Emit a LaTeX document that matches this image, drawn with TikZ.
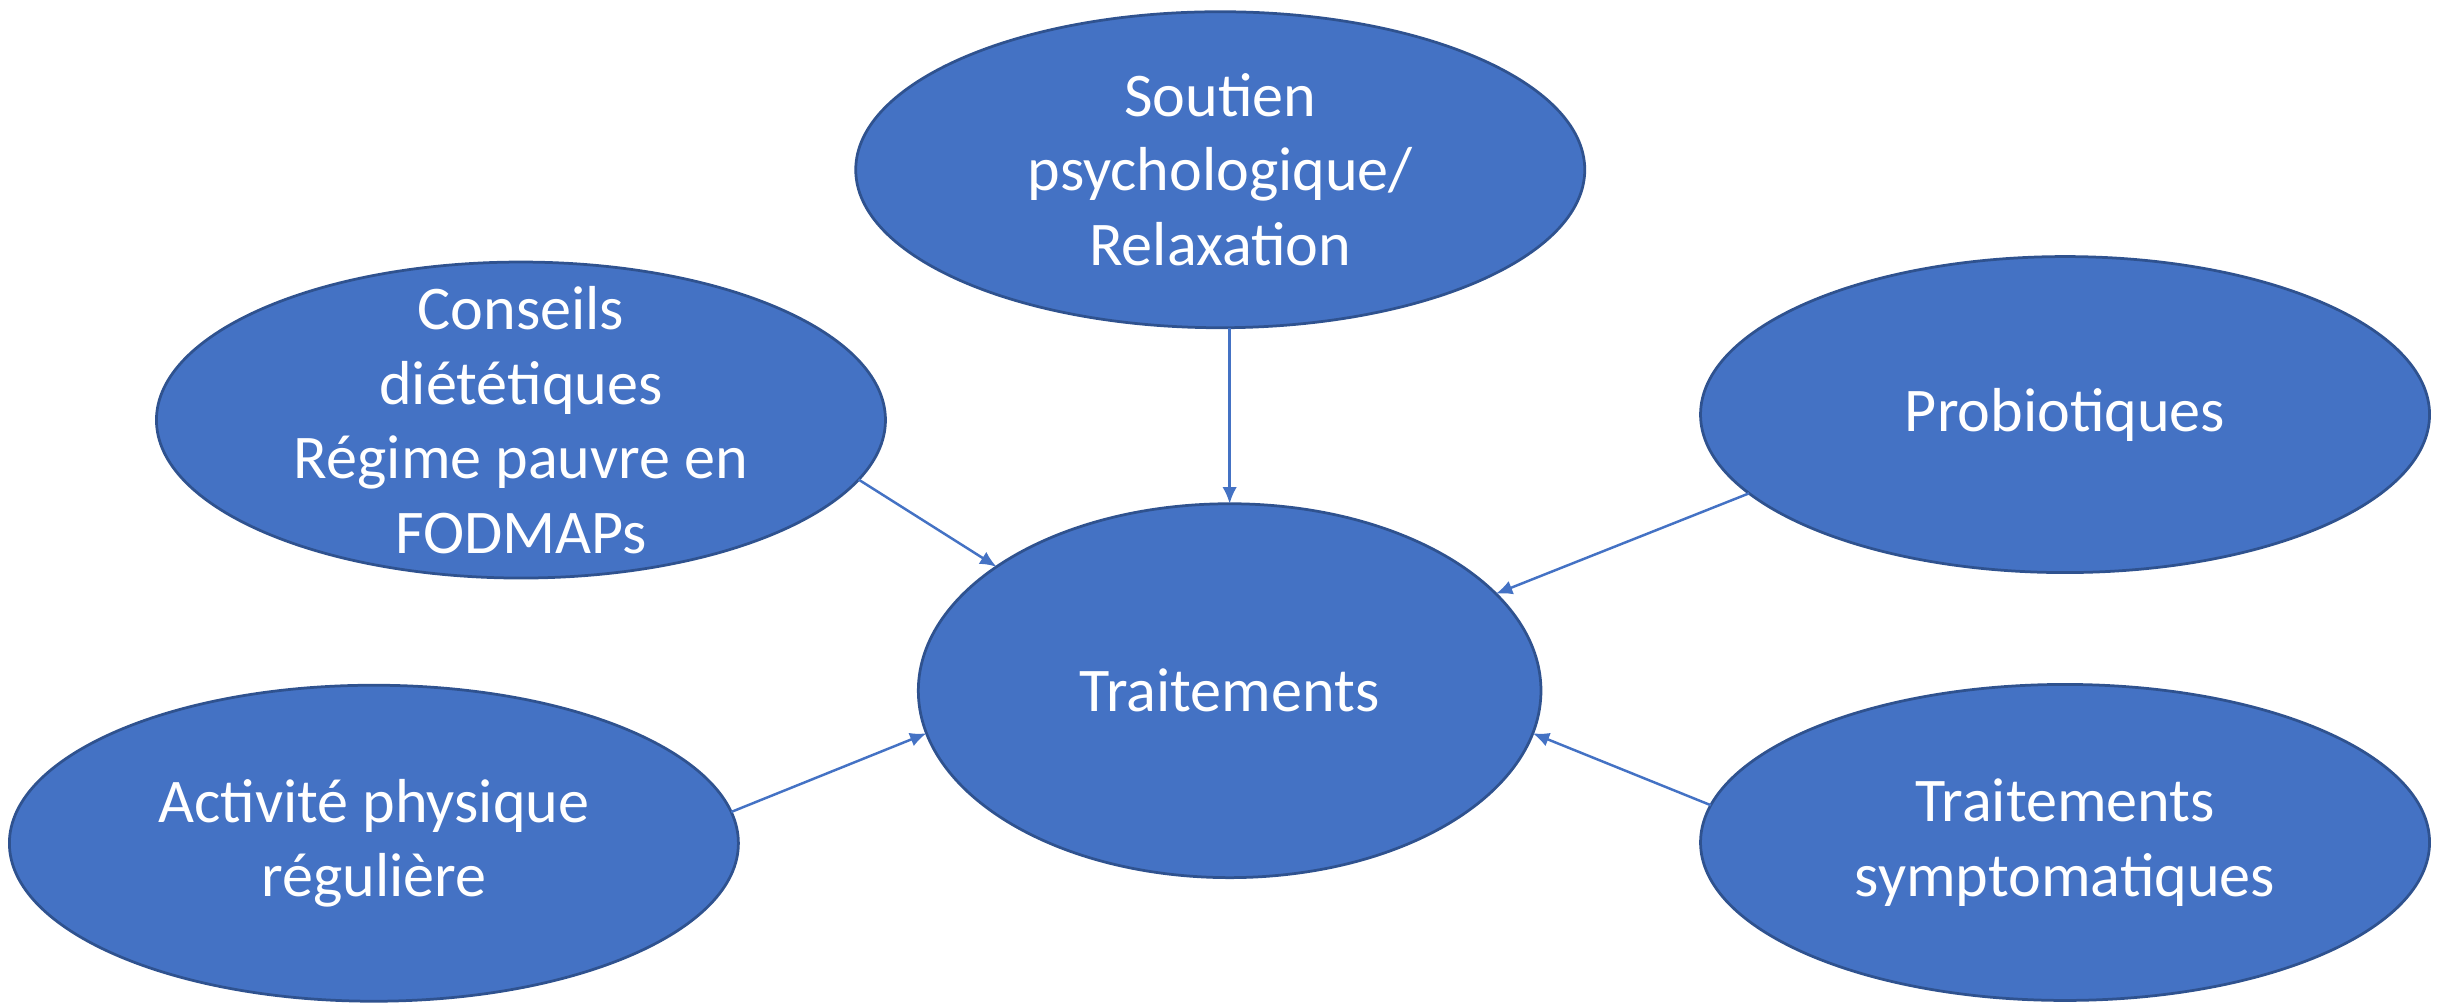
\documentclass[tikz,border=0pt]{standalone}
\usepackage{fontspec}
\setmainfont{Carlito}
\usetikzlibrary{shapes.geometric,arrows.meta}
\definecolor{bubfill}{HTML}{4472C4}
\definecolor{bubline}{HTML}{2F528F}

\begin{document}
\begin{tikzpicture}[>={Latex[length=3pt,width=2.6pt]}]
    \tikzset{
        bubble/.style={ellipse, draw=bubline, fill=bubfill, line width=0.5pt,
            minimum width=4.66cm, minimum height=2.02cm, inner sep=0pt, outer sep=0pt},
        txt/.style={text=white, align=center, font=\fontsize{11.3}{13.6}\selectfont},
        link/.style={->, draw=bubfill, line width=0.45pt}
    }
    \useasboundingbox (0,0) rectangle (15.68,-6.44);

    \node[bubble, label={[txt]center:{Soutien\\psychologique/\\Relaxation}}] (sout) at (7.80,-1.085) {};
    \node[bubble, label={[txt]center:{Conseils\\diététiques\\Régime pauvre en\\FODMAPs}}] (cons) at (3.33,-2.685) {};
    \node[bubble, label={[txt]center:{Probiotiques}}] (prob) at (13.20,-2.65) {};
    \node[bubble, minimum width=3.98cm, minimum height=2.39cm,
        label={[txt]center:{Traitements}}] (trt) at (7.86,-4.415) {};
    \node[bubble, label={[txt]center:{Activité physique\\régulière}}] (act) at (2.39,-5.39) {};
    \node[bubble, label={[txt]center:{Traitements\\symptomatiques}}] (sym) at (13.20,-5.385) {};

    \draw[link] (sout.south -| trt.north) -- (trt.north);
    \draw[link] (cons.-10.7) -- (trt.152.6);
    \draw[link] (prob.194.5) -- (trt.20.2);
    \draw[link] (act.5.9) -- (trt.188.1);
    \draw[link] (sym.174.2) -- (trt.-8.1);
\end{tikzpicture}
\end{document}
